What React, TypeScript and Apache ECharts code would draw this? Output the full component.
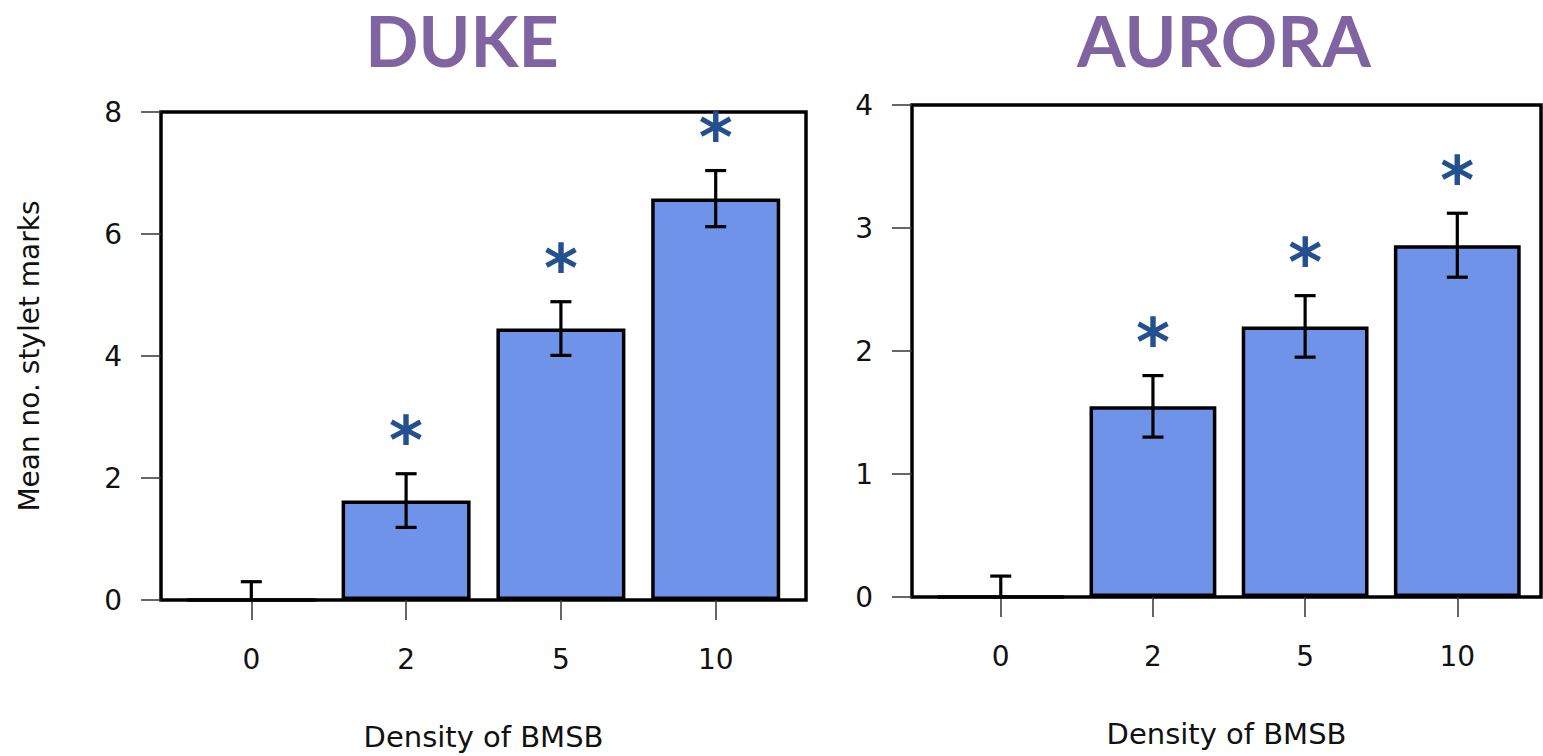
import React, { useEffect, useRef } from "react";
import * as echarts from "echarts";

// Density treatments (insects per cage) shown on the x axis
const categories = ["0", "2", "5", "10"];

// Duke: mean stylet marks and standard errors
const dukeMeans = [0, 1.63, 4.45, 6.58];
const dukeSE = [0.3, 0.44, 0.44, 0.46];
const dukeSig = ["", "*", "*", "*"];

// Aurora: mean stylet marks and standard errors
const auroraMeans = [0, 1.55, 2.2, 2.86];
const auroraSE = [0.17, 0.25, 0.25, 0.26];
const auroraSig = ["", "*", "*", "*"];

// y-axis ticks per panel
const dukeYTicks = { min: 0, max: 8, interval: 2 };
const auroraYTicks = { min: 0, max: 4, interval: 1 };

// barplot-style positions: bars of width 1 separated by 0.2
const barPos = (i: number) => 0.7 + 1.2 * i;
const positions = categories.map((_, i) => barPos(i));

const BAR_FILL = "#6F93E8";
const STAR_COLOR = "#24508F";
const AXIS_FONT = "DejaVu Sans";

function labelFor(v: number) {
  const idx = positions.findIndex((p) => Math.abs(p - v) < 1e-6);
  return idx >= 0 ? categories[idx] : "";
}

function panel(
  idx: number,
  grid: { left: number; top: number; width: number; height: number },
  xMax: number,
  yTicks: { min: number; max: number; interval: number },
  means: number[],
  se: number[],
  sig: string[],
  yName: string
) {
  const unit = grid.width / xMax;
  const gridOpt = {
    ...grid,
    show: true,
    borderColor: "#000",
    borderWidth: 3.5,
    backgroundColor: "transparent",
  };
  const xAxis = {
    type: "value",
    gridIndex: idx,
    min: 0,
    max: xMax,
    name: "Density of BMSB",
    nameLocation: "middle",
    nameGap: 122,
    nameTextStyle: { fontFamily: AXIS_FONT, fontSize: 29, color: "#111" },
    axisLine: { show: false },
    splitLine: { show: false },
    axisTick: {
      show: true,
      length: 20,
      customValues: positions,
      lineStyle: { color: "#333", width: 1.5 },
    },
    axisLabel: {
      customValues: positions,
      formatter: (v: number) => labelFor(v),
      fontFamily: AXIS_FONT,
      fontSize: 28,
      color: "#111",
      margin: 45,
    },
  };
  const yAxis = {
    type: "value",
    gridIndex: idx,
    min: yTicks.min,
    max: yTicks.max,
    interval: yTicks.interval,
    name: yName,
    nameLocation: "middle",
    nameGap: 118,
    nameTextStyle: { fontFamily: AXIS_FONT, fontSize: 28, color: "#111" },
    axisLine: { show: false },
    splitLine: { show: false },
    axisTick: { show: true, length: 20, lineStyle: { color: "#333", width: 1.5 } },
    axisLabel: {
      fontFamily: AXIS_FONT,
      fontSize: 28,
      color: "#111",
      margin: 39,
    },
  };
  const rows = means.map((m, i) => [positions[i], m, se[i]]);
  const series = [
    {
      type: "bar",
      xAxisIndex: idx,
      yAxisIndex: idx,
      data: rows.map((r) => [r[0], r[1]]),
      barWidth: unit,
      itemStyle: { color: BAR_FILL, borderColor: "#000", borderWidth: 3.5 },
      z: 2,
    },
    {
      type: "custom",
      xAxisIndex: idx,
      yAxisIndex: idx,
      clip: true,
      data: rows,
      encode: { x: 0, y: 1 },
      z: 3,
      renderItem: (_p: any, api: any) => {
        const x = api.value(0);
        const m = api.value(1);
        const s = api.value(2);
        const top = api.coord([x, m + s]);
        const bot = api.coord([x, m - s]);
        const half = 10.5;
        const st = { stroke: "#000", lineWidth: 3.2 };
        return {
          type: "group",
          children: [
            { type: "line", shape: { x1: top[0], y1: top[1], x2: bot[0], y2: bot[1] }, style: st },
            { type: "line", shape: { x1: top[0] - half, y1: top[1], x2: top[0] + half, y2: top[1] }, style: st },
            { type: "line", shape: { x1: bot[0] - half, y1: bot[1], x2: bot[0] + half, y2: bot[1] }, style: st },
          ],
        };
      },
    },
    {
      type: "custom",
      xAxisIndex: idx,
      yAxisIndex: idx,
      clip: false,
      data: rows,
      encode: { x: 0, y: 1 },
      z: 4,
      renderItem: (p: any, api: any) => {
        const x = api.value(0);
        const m = api.value(1);
        const s = api.value(2);
        const top = api.coord([x, m + s]);
        return {
          type: "text",
          x: top[0],
          y: top[1] - 33,
          style: {
            text: sig[p.dataIndex],
            fill: STAR_COLOR,
            font: "bold 65px 'DejaVu Sans'",
            align: "center",
            verticalAlign: "middle",
          },
        };
      },
    },
  ];
  return { gridOpt, xAxis, yAxis, series };
}

export default function App() {
  const ref = useRef<HTMLDivElement>(null);

  useEffect(() => {
    if (!ref.current) return;
    const chart = echarts.init(ref.current, undefined, { renderer: "svg" });
    const duke = panel(
      0,
      { left: 161, top: 112, width: 645, height: 489 },
      5,
      dukeYTicks,
      dukeMeans,
      dukeSE,
      dukeSig,
      "Mean no. stylet marks"
    );
    const aurora = panel(
      1,
      { left: 912, top: 105, width: 629, height: 492 },
      4.96,
      auroraYTicks,
      auroraMeans,
      auroraSE,
      auroraSig,
      ""
    );
    chart.setOption({
      animation: false,
      backgroundColor: "#fff",
      grid: [duke.gridOpt, aurora.gridOpt],
      xAxis: [duke.xAxis, aurora.xAxis],
      yAxis: [duke.yAxis, aurora.yAxis],
      series: [...duke.series, ...aurora.series],
      graphic: [
        {
          type: "text",
          x: 462,
          y: 40,
          style: {
            text: "DUKE",
            fill: "#8064A2",
            font: "bold 70px Lato",
            lineHeight: 70,
            align: "center",
            verticalAlign: "middle",
          },
        },
        {
          type: "text",
          x: 1224,
          y: 40,
          style: {
            text: "AURORA",
            fill: "#8064A2",
            font: "bold 70px Lato",
            lineHeight: 70,
            align: "center",
            verticalAlign: "middle",
          },
        },
      ],
    });
    return () => chart.dispose();
  }, []);

  return (
    <div
      ref={ref}
      style={{ position: "fixed", left: 0, top: 0, width: 1543, height: 756 }}
    />
  );
}
